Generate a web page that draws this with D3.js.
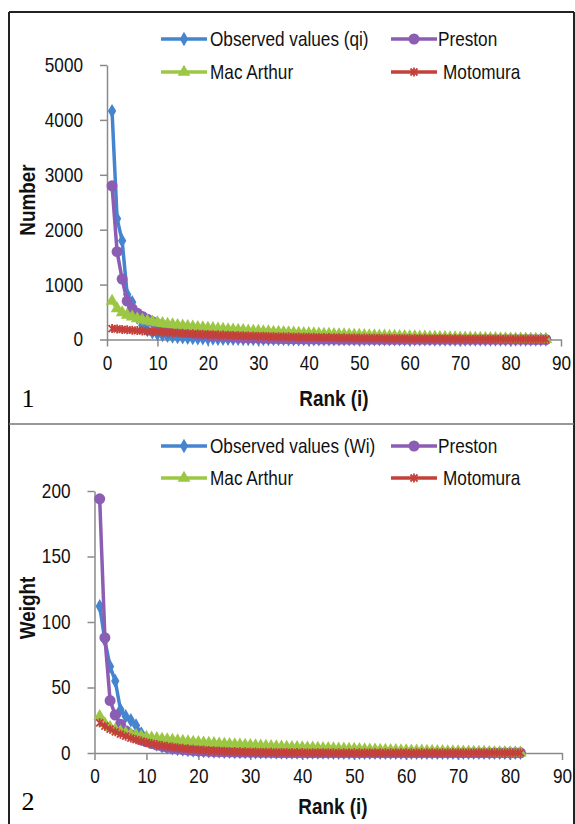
<!DOCTYPE html>
<html>
<head>
<meta charset="utf-8">
<script src="https://cdn.jsdelivr.net/npm/d3@7"></script>
<style>
  body { margin: 0; background: #fff; }
  text { font-family: "Liberation Sans", Arial, sans-serif; }
</style>
</head>
<body>
<div id="chart"></div>
<script>
// ---- data, panel 1 (number of individuals by rank) ----
const obsNumber = [4160,2200,1800,820,680,400,260,170,130,100,80,66,55,46,39,33,28,24,21,18,
  16,15,14,13,12,11,10,10,9,9,8,8,7,7,7,6,6,6,5,5,
  5,5,4,4,4,4,4,3,3,3,3,3,3,3,2,2,2,2,2,2,
  2,2,2,2,1,1,1,1,1,1,1,1,1,1,1,1,1,1,1,1,
  1,1,1,1,1,1,1];
const prestonNumber = [2800,1600,1100,700,560,480,420,370,325,285,250,220,195,170,150,132,116,102,90,79,
  70,62,55,49,43,38,34,30,27,24,21,19,17,15,13,12,11,10,9,8,
  7,6,6,5,5,4,4,4,3,3,3,3,2,2,2,2,2,2,2,1,
  1,1,1,1,1,1,1,1,1,1,1,1,1,1,1,1,1,1,1,1,
  1,1,1,0,0,0,0];
const macArthurNumber = [700,561,492,446,411,383,360,340,323,308,294,281,270,259,249,240,231,223,215,208,
  201,195,188,182,176,171,166,160,155,151,146,142,137,133,129,125,121,117,114,110,
  107,103,100,97,94,91,88,85,82,79,76,73,71,68,66,63,61,58,56,53,
  51,49,47,44,42,40,38,36,34,32,30,28,26,24,22,20,19,17,15,13,
  12,10,8,6,5,3,2];
const motomuraNumber = [200,192,184,177,170,163,157,150,144,139,133,128,123,118,113,108,104,100,96,92,
  88,85,81,78,75,72,69,66,64,61,59,56,54,52,50,48,46,44,42,41,
  39,38,36,35,33,32,31,29,28,27,26,25,24,23,22,21,20,20,19,18,
  17,17,16,15,15,14,14,13,12,12,11,11,11,10,10,9,9,9,8,8,
  8,7,7,7,6,6,6];

// ---- data, panel 2 (weight by rank) ----
const obsWeight = [112,86,66,55,33,28,25,21,15,11,8.5,6.5,5.2,4.3,3.6,3.0,2.6,2.2,1.9,1.7,
  1.5,1.3,1.2,1.1,1.0,0.9,0.8,0.8,0.7,0.7,0.6,0.6,0.5,0.5,0.5,0.4,0.4,0.4,0.4,0.3,
  0.3,0.3,0.3,0.3,0.3,0.2,0.2,0.2,0.2,0.2,0.2,0.2,0.2,0.2,0.1,0.1,0.1,0.1,0.1,0.1,
  0.1,0.1,0.1,0.1,0.1,0.1,0.1,0.1,0.1,0.1,0.1,0.1,0.1,0.1,0.1,0.1,0.1,0.1,0.1,0.1,
  0.1,0.1];
const prestonWeight = [194,88,40,29,22,17,14,12,10,8.5,7.2,6.1,5.2,4.4,3.7,3.1,2.6,2.2,1.9,1.6,
  1.4,1.2,1.0,0.9,0.8,0.7,0.6,0.5,0.5,0.4,0.4,0.3,0.3,0.3,0.2,0.2,0.2,0.2,0.2,0.1,
  0.1,0.1,0.1,0.1,0.1,0.1,0.1,0.1,0.1,0.1,0.1,0.1,0.1,0.1,0.1,0.1,0.1,0.1,0.1,0.1,
  0.1,0.1,0.1,0.1,0.1,0.1,0.1,0.1,0.1,0.1,0.1,0.1,0.1,0.1,0.1,0.1,0.1,0.1,0.1,0.1,
  0.1,0.1];
const macArthurWeight = [28.0,22.4,19.6,17.7,16.3,15.2,14.2,13.4,12.7,12.1,11.6,11.1,10.6,10.2,9.8,9.4,9.0,8.7,8.4,8.1,
  7.8,7.5,7.3,7.0,6.8,6.6,6.4,6.2,6.0,5.8,5.6,5.4,5.2,5.1,4.9,4.7,4.6,4.4,4.3,4.1,
  4.0,3.9,3.7,3.6,3.5,3.3,3.2,3.1,3.0,2.9,2.8,2.6,2.5,2.4,2.3,2.2,2.1,2.0,1.9,1.8,
  1.7,1.6,1.6,1.5,1.4,1.3,1.2,1.1,1.0,1.0,0.9,0.8,0.7,0.7,0.6,0.5,0.4,0.4,0.3,0.2,
  0.1,0.1];
const motomuraWeight = [23,20.5,18.2,16.2,14.4,12.8,11.4,10.2,9.1,8.1,7.2,6.4,5.7,5.1,4.5,4.0,3.6,3.2,2.8,2.5,
  2.2,2.0,1.8,1.6,1.4,1.2,1.1,1.0,0.9,0.8,0.7,0.6,0.6,0.5,0.4,0.4,0.4,0.3,0.3,0.3,
  0.2,0.2,0.2,0.2,0.2,0.1,0.1,0.1,0.1,0.1,0.1,0.1,0.1,0.1,0.1,0.1,0.1,0.1,0.1,0.1,
  0.1,0.1,0.1,0.1,0.1,0.1,0.1,0.1,0.1,0.1,0.1,0.1,0.1,0.1,0.1,0.1,0.1,0.1,0.1,0.1,
  0.1,0.1];

const xTicks = [0,10,20,30,40,50,60,70,80,90];
const numberTicks = [0,1000,2000,3000,4000,5000];
const weightTicks = [0,50,100,150,200];

const colors = { obs: "#4584cf", preston: "#8b5db3", mac: "#9bc743", moto: "#c4403a" };
const squeeze = 0.86;   // the original uses a condensed face

const width = 575, height = 824;

let svg = d3.select("#chart").append("svg")
    .attr("width", width)
    .attr("height", height);

svg.append("rect").attr("width", width).attr("height", height).attr("fill", "#fff");

// frames
svg.append("line").attr("x1", 9).attr("x2", 9).attr("y1", 12).attr("y2", height)
    .attr("stroke", "#222").attr("stroke-width", 2);
svg.append("line").attr("x1", 574).attr("x2", 574).attr("y1", 12).attr("y2", height)
    .attr("stroke", "#222").attr("stroke-width", 2);
svg.append("line").attr("x1", 9).attr("x2", 574).attr("y1", 12).attr("y2", 12)
    .attr("stroke", "#222").attr("stroke-width", 2);
svg.append("line").attr("x1", 9).attr("x2", 574).attr("y1", 424).attr("y2", 424)
    .attr("stroke", "#777").attr("stroke-width", 1.5);

// condensed text placed at (x, y)
function ctext(x, y, str, size, opts) {
    opts = opts || {};
    let t = svg.append("text")
        .attr("transform", "translate(" + x + "," + y + ")" + (opts.rotate ? " rotate(-90)" : "") + " scale(" + squeeze + ",1)")
        .attr("text-anchor", opts.anchor || "start")
        .attr("dy", "0.36em")
        .attr("fill", "#111")
        .style("font-size", size + "px")
        .text(str);
    if (opts.bold) t.style("font-weight", "bold");
    return t;
}

function marker(g, type, color) {
    if (type == "diamond") {
        g.append("path").attr("d", d3.symbol(d3.symbolDiamond, 60)()).attr("fill", color);
    } else if (type == "circle") {
        g.append("circle").attr("r", 5.5).attr("fill", color);
    } else if (type == "triangle") {
        g.append("path").attr("d", d3.symbol(d3.symbolTriangle, 70)()).attr("fill", color);
    } else {
        g.append("path").attr("d", "M-3.5,-3.5L3.5,3.5M-3.5,3.5L3.5,-3.5M0,-4.5L0,4.5")
            .attr("stroke", color).attr("stroke-width", 1.8).attr("fill", "none");
    }
}

function make_panel(cfg) {
    let x = d3.scaleLinear().domain([0, 90]).range(cfg.xRange);
    let y = d3.scaleLinear().domain(cfg.yDomain).range(cfg.yRange);

    // y axis
    let yAxis = svg.append("g")
        .attr("transform", "translate(" + cfg.xRange[0] + ",0)")
        .call(d3.axisLeft(y).tickValues(cfg.yTicks).tickFormat(d3.format("d"))
            .tickSize(7).tickPadding(17).tickSizeOuter(0));
    // x axis
    let xAxis = svg.append("g")
        .attr("transform", "translate(0," + cfg.yRange[0] + ")")
        .call(d3.axisBottom(x).tickValues(xTicks).tickSize(7).tickPadding(9).tickSizeOuter(0));

    [xAxis, yAxis].forEach(function(a) {
        a.select(".domain").attr("stroke", "#8a8a8a").attr("stroke-width", 1.5);
        a.selectAll(".tick line").attr("stroke", "#8a8a8a").attr("stroke-width", 1.5);
        a.selectAll(".tick text")
            .attr("fill", "#111")
            .style("font-size", "20px")
            .style("font-family", "'Liberation Sans', Arial, sans-serif")
            .attr("x", function() { return (+d3.select(this).attr("x") || 0) / squeeze; })
            .attr("transform", "scale(" + squeeze + ",1)");
    });

    let series = [
        { vals: cfg.obs, color: colors.obs, m: "diamond" },
        { vals: cfg.preston, color: colors.preston, m: "circle" },
        { vals: cfg.mac, color: colors.mac, m: "triangle" },
        { vals: cfg.moto, color: colors.moto, m: "star" }
    ];

    let line = d3.line()
        .x(function(d, i) { return x(i + 1); })
        .y(function(d) { return y(d); });

    series.forEach(function(s) {
        let g = svg.append("g");
        g.append("path")
            .datum(s.vals)
            .attr("d", line)
            .attr("fill", "none")
            .attr("stroke", s.color)
            .attr("stroke-width", 3.5)
            .attr("stroke-linejoin", "round");
        g.selectAll(".pt")
            .data(s.vals)
            .enter()
            .append("g")
            .attr("transform", function(d, i) { return "translate(" + x(i + 1) + "," + y(d) + ")"; })
            .each(function() { marker(d3.select(this), s.m, s.color); });
    });

    // legend
    let items = [
        { label: cfg.obsLabel, color: colors.obs, m: "diamond", x: 161, y: cfg.legendY[0], tx: 210 },
        { label: "Preston", color: colors.preston, m: "circle", x: 391, y: cfg.legendY[0], tx: 438 },
        { label: "Mac Arthur", color: colors.mac, m: "triangle", x: 161, y: cfg.legendY[1], tx: 210 },
        { label: "Motomura", color: colors.moto, m: "star", x: 391, y: cfg.legendY[1], tx: 443 }
    ];
    items.forEach(function(it) {
        svg.append("line").attr("x1", it.x).attr("x2", it.x + 46)
            .attr("y1", it.y).attr("y2", it.y)
            .attr("stroke", it.color).attr("stroke-width", 3.5);
        let mg = svg.append("g").attr("transform", "translate(" + (it.x + 23) + "," + it.y + ")");
        marker(mg, it.m, it.color);
        ctext(it.tx, it.y, it.label, 20);
    });

    // axis titles
    ctext(cfg.rankPos[0], cfg.rankPos[1], "Rank (i)", 22, { anchor: "middle", bold: true });
    ctext(cfg.yTitlePos[0], cfg.yTitlePos[1], cfg.yTitle, 22, { anchor: "middle", bold: true, rotate: true });

    svg.append("text")
        .attr("x", 28).attr("y", cfg.numPos)
        .attr("text-anchor", "middle").attr("dy", "0.35em")
        .style("font-size", "26px").style("font-family", "'Liberation Serif', 'Times New Roman', serif")
        .text(cfg.num);
}

make_panel({
    xRange: [107, 561], yDomain: [0, 5000], yRange: [339.5, 65], yTicks: numberTicks,
    obs: obsNumber, preston: prestonNumber, mac: macArthurNumber, moto: motomuraNumber,
    obsLabel: "Observed values (qi)", legendY: [39, 72],
    rankPos: [334, 398], yTitle: "Number", yTitlePos: [27, 200], num: "1", numPos: 398
});

make_panel({
    xRange: [94.5, 562], yDomain: [0, 200], yRange: [753, 491], yTicks: weightTicks,
    obs: obsWeight, preston: prestonWeight, mac: macArthurWeight, moto: motomuraWeight,
    obsLabel: "Observed values (Wi)", legendY: [446, 478],
    rankPos: [333, 806], yTitle: "Weight", yTitlePos: [27, 608], num: "2", numPos: 801
});
</script>
</body>
</html>
